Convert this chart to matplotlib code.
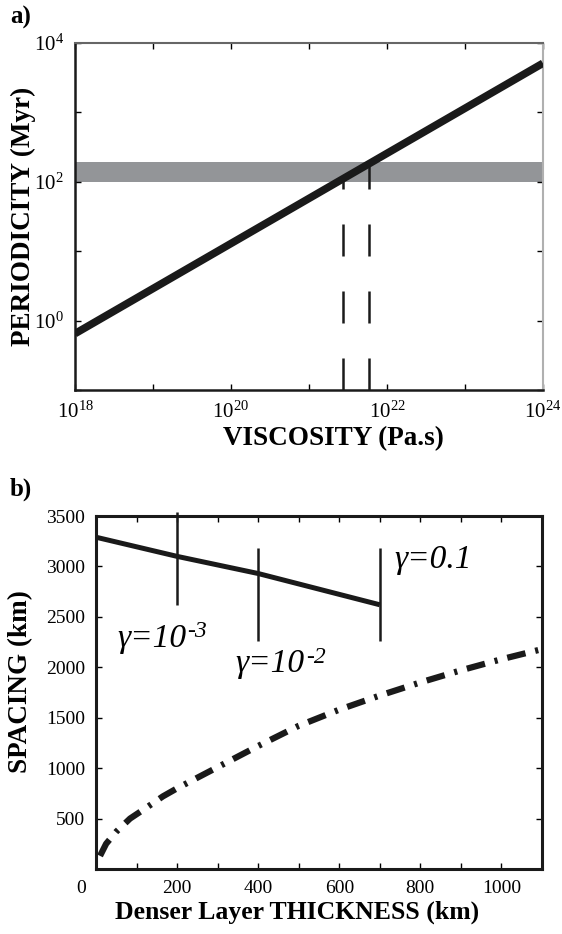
import numpy as np
import matplotlib
matplotlib.use("Agg")
import matplotlib.pyplot as plt
from matplotlib.ticker import NullLocator
from matplotlib.transforms import ScaledTranslation

plt.rcParams["font.family"] = ["Liberation Serif", "DejaVu Serif"]
plt.rcParams["mathtext.fontset"] = "custom"
plt.rcParams["mathtext.rm"] = "Liberation Serif"
plt.rcParams["mathtext.it"] = "Liberation Serif:italic"

# panel a: periodicity vs viscosity
viscosity = [1e18, 1e24]
periodicity = [0.65, 5100]
band_lo, band_hi = 100, 195
visc_marks = [2.7e21, 5.9e21]
period_marks = [110, 185]

# panel b: spacing vs denser layer thickness
gamma_thick = [0, 200, 400, 700]
gamma_spacing = [3290, 3100, 2930, 2620]
marker_x = [200, 400, 700]
marker_lo = [2620, 2260, 2260]
marker_hi = [3540, 3180, 3180]

thick_dd = [10, 25, 50, 84, 125, 165, 200, 300, 400, 500, 600, 700, 800, 900, 1000, 1100]
spacing_dd = [130, 250, 370, 500, 610, 720, 800, 1010, 1220, 1420, 1580, 1720, 1850, 1970, 2080, 2180]

fig = plt.figure(figsize=(5.62, 9.34), dpi=100)

# ---------------- a) ----------------
ax = fig.add_axes([0.1335, 0.5824, 0.8325, 0.3716])
ax.set_xscale("log")
ax.set_yscale("log")
ax.set_xlim(1e18, 1e24)
ax.set_ylim(1e-1, 1e4)

ax.axhspan(band_lo, band_hi, color="#939598", lw=0, zorder=1)
ax.plot(viscosity, periodicity, color="#1a1a1a", lw=5.5, solid_capstyle="butt", zorder=3)
for xv, yv in zip(visc_marks, period_marks):
    ax.plot([xv, xv], [0.1, yv], color="#1a1a1a", lw=1.8,
            linestyle=(0, (12.8, 14.0)), zorder=2)

xt = [10.0 ** k for k in range(18, 25)]
ax.set_xticks(xt)
ax.set_xticklabels([f"$10^{{{k}}}$" if k % 2 == 0 else "" for k in range(18, 25)])
yt = [10.0 ** k for k in range(-1, 5)]
ax.set_yticks(yt)
ax.set_yticklabels([f"$10^{{{k}}}$" if k in (0, 2, 4) else "" for k in range(-1, 5)])
ax.xaxis.set_minor_locator(NullLocator())
ax.yaxis.set_minor_locator(NullLocator())
ax.tick_params(direction="in", top=True, right=True, length=4, width=1,
               labelsize=15, pad=8)
for s in ["left", "bottom"]:
    ax.spines[s].set_linewidth(1.8)
    ax.spines[s].set_color("#1a1a1a")
ax.spines["top"].set_linewidth(1.5)
ax.spines["top"].set_color("#666666")
ax.spines["right"].set_linewidth(1.5)
ax.spines["right"].set_color("#b0b0b0")

ax.set_xlabel("VISCOSITY (Pa.s)", fontsize=19.5, fontweight="bold")
ax.set_ylabel("PERIODICITY (Myr)", fontsize=19.5, fontweight="bold")
ax.xaxis.label.set_va("center")
ax.yaxis.label.set_va("center")
ax.xaxis.set_label_coords(0.553, -0.14)
ax.yaxis.set_label_coords(-0.111, 0.5)
fig.text(0.018, 0.981, "a)", fontsize=18, fontweight="bold", va="center")

# ---------------- b) ----------------
bx = fig.add_axes([0.1708, 0.0696, 0.7936, 0.3779])
bx.set_xlim(0, 1100)
bx.set_ylim(0, 3500)

bx.plot(gamma_thick, gamma_spacing, color="#1a1a1a", lw=3.6, solid_capstyle="butt")
bx.vlines(marker_x, marker_lo, marker_hi, color="#1a1a1a", lw=1.8, clip_on=False)
bx.plot(thick_dd, spacing_dd, color="#1a1a1a", lw=4.5,
        linestyle=(0, (3.0, 1.6, 0.5, 1.6)))

t1 = bx.text(52, 2200, "γ=10", fontsize=24, style="italic", va="baseline")
bx.annotate("-3", xy=(1.0, 0.0), xycoords=t1, xytext=(1, 12),
            textcoords="offset points", fontsize=17, style="italic",
            va="baseline", ha="left")
t2 = bx.text(345, 1950, "γ=10", fontsize=24, style="italic", va="baseline")
bx.annotate("-2", xy=(1.0, 0.0), xycoords=t2, xytext=(1, 12),
            textcoords="offset points", fontsize=17, style="italic",
            va="baseline", ha="left")
bx.text(735, 2985, "γ=0.1", fontsize=24, style="italic", va="baseline")

bx.set_xticks(np.arange(0, 1101, 100))
bx.set_xticklabels([str(v) if v % 200 == 0 and v <= 1000 else "" for v in range(0, 1101, 100)])
bx.set_yticks(np.arange(500, 3501, 500))
bx.tick_params(direction="in", top=True, right=True, length=4, width=1,
               labelsize=14, pad=8)
for s in bx.spines.values():
    s.set_linewidth(2.2)
    s.set_color("#1a1a1a")
lab0 = bx.get_xticklabels()[0]
lab0.set_transform(lab0.get_transform() + ScaledTranslation(-0.15, 0, fig.dpi_scale_trans))

bx.set_xlabel("Denser Layer THICKNESS (km)", fontsize=18.5, fontweight="bold")
bx.set_ylabel("SPACING (km)", fontsize=19.5, fontweight="bold")
bx.xaxis.label.set_va("center")
bx.yaxis.label.set_va("center")
bx.xaxis.set_label_coords(0.45, -0.122)
bx.yaxis.set_label_coords(-0.168, 0.53)
fig.text(0.018, 0.476, "b)", fontsize=18, fontweight="bold", va="center")

fig.savefig("out.png", dpi=100)
